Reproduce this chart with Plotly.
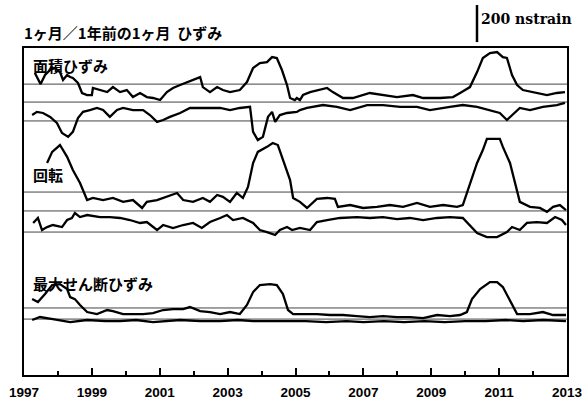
import plotly.graph_objects as go

# ---------------- data (decimal year, nstrain) ----------------
areal_a_t = [1997.32, 1997.49, 1997.62, 1997.77, 1997.91, 1998.06, 1998.15, 1998.27, 1998.36, 1998.44,
             1998.59, 1998.71, 1998.86, 1999.00, 1999.03, 1999.24, 1999.45, 1999.62, 1999.83, 2000.03,
             2000.21, 2000.42, 2000.62, 2000.80, 2001.01, 2001.21, 2001.39, 2001.60, 2001.80, 2001.98,
             2002.19, 2002.27, 2002.48, 2002.69, 2002.86, 2003.07, 2003.36, 2003.57, 2003.75, 2003.95,
             2004.16, 2004.31, 2004.45, 2004.60, 2004.75, 2004.84, 2004.98, 2005.04, 2005.13, 2005.22,
             2005.43, 2005.93, 2006.10, 2006.40, 2006.69, 2007.19, 2007.58, 2007.99, 2008.46, 2008.76,
             2009.26, 2009.64, 2009.85, 2010.14, 2010.35, 2010.52, 2010.73, 2010.94, 2011.11, 2011.23,
             2011.38, 2011.53, 2011.70, 2012.11, 2012.41, 2012.70, 2012.94]
areal_a_v = [157, 97, 146, 173, 184, 162, 119, 146, 135, 130,
             103, 49, 38, 38, 76, 65, 54, 81, 54, 65,
             27, 49, 27, 22, 11, 54, 76, 92, 108, 119,
             135, 81, 54, 81, 65, 54, 65, 108, 184, 211,
             216, 243, 238, 173, 92, 22, 11, 22, 11, 38,
             54, 76, 54, 22, 22, 49, 38, 27, 38, 22,
             22, 27, 49, 81, 162, 238, 265, 270, 243, 238,
             146, 92, 65, 49, 38, 49, 54]

areal_b_t = [1997.24, 1997.38, 1997.56, 1997.77, 1997.97, 1998.12, 1998.30, 1998.44, 1998.59, 1998.74,
             1998.94, 1999.15, 1999.33, 1999.53, 1999.74, 1999.92, 2000.21, 2000.51, 2000.71, 2000.92,
             2001.10, 2001.30, 2001.60, 2001.89, 2002.19, 2002.48, 2002.78, 2003.07, 2003.36, 2003.66,
             2003.75, 2003.89, 2004.04, 2004.19, 2004.31, 2004.40, 2004.54, 2004.75, 2004.93, 2005.04,
             2005.13, 2005.34, 2005.81, 2006.22, 2006.61, 2007.11, 2007.58, 2008.08, 2008.58, 2008.96,
             2009.55, 2009.93, 2010.35, 2010.73, 2011.02, 2011.23, 2011.38, 2011.61, 2011.91, 2012.29,
             2012.70, 2012.94]
areal_b_v = [32, 49, 43, 22, -11, -65, -86, -59, 16, 49,
             59, 70, 59, 22, 59, 70, 59, 59, 32, -5,
             5, 22, 43, 70, 70, 70, 70, 59, 70, 76,
             -59, -103, -86, 22, 49, -5, 32, 43, 49, 49,
             59, 70, 86, 76, 59, 86, 86, 76, 76, 59,
             76, 86, 76, 59, 43, 5, 32, 70, 59, 76,
             86, 97]

rot_c_t = [1997.68, 1997.83, 1998.06, 1998.27, 1998.44, 1998.65, 1998.86, 1999.03, 1999.33, 1999.62,
           1999.92, 2000.21, 2000.48, 2000.62, 2000.92, 2001.21, 2001.51, 2001.69, 2001.98, 2002.27,
           2002.48, 2002.69, 2002.86, 2003.07, 2003.27, 2003.45, 2003.60, 2003.75, 2003.89, 2004.16,
           2004.33, 2004.48, 2004.63, 2004.84, 2004.93, 2005.13, 2005.34, 2005.52, 2005.63, 2005.93,
           2006.16, 2006.25, 2006.61, 2006.99, 2007.40, 2007.78, 2008.17, 2008.58, 2008.96, 2009.35,
           2009.76, 2009.93, 2010.05, 2010.20, 2010.35, 2010.52, 2010.64, 2011.02, 2011.11, 2011.32,
           2011.53, 2011.61, 2011.91, 2012.20, 2012.41, 2012.59, 2012.79, 2012.97]
rot_c_v = [259, 319, 356, 292, 221, 151, 59, 70, 59, 70,
           49, 59, 16, 49, 59, 76, 97, 59, 49, 70,
           49, 86, 76, 49, 97, 70, 130, 259, 319, 346,
           367, 356, 275, 167, 70, 49, 16, 49, 65, 70,
           65, 22, 32, 16, 22, 32, 22, 43, 22, 32,
           22, 32, 97, 184, 259, 329, 389, 389, 346, 259,
           113, 49, 22, 16, -5, 22, 32, 5]

rot_d_t = [1997.27, 1997.41, 1997.53, 1997.68, 1997.85, 1998.12, 1998.27, 1998.41, 1998.50, 1998.65,
           1998.86, 1999.24, 1999.53, 1999.83, 2000.12, 2000.42, 2000.62, 2000.92, 2001.10, 2001.39,
           2001.69, 2001.98, 2002.24, 2002.48, 2002.78, 2002.98, 2003.16, 2003.45, 2003.75, 2003.95,
           2004.16, 2004.40, 2004.54, 2004.75, 2004.90, 2005.13, 2005.43, 2005.63, 2005.93, 2006.31,
           2006.81, 2007.19, 2007.58, 2007.99, 2008.37, 2008.76, 2009.17, 2009.55, 2009.93, 2010.14,
           2010.35, 2010.64, 2010.94, 2011.23, 2011.38, 2011.61, 2011.82, 2012.11, 2012.41, 2012.65,
           2012.85, 2012.97]
rot_d_v = [49, 76, 11, 27, 38, 27, 65, 76, 103, 81,
           92, 81, 81, 76, 65, 49, 54, 11, 38, 22,
           38, 49, 22, 54, 76, 92, 65, 76, 49, 11,
           0, -16, 11, 27, 11, 22, 11, 54, 65, 76,
           81, 76, 81, 70, 76, 65, 76, 81, 76, 38,
           -5, -27, -27, 0, 27, 11, 49, 54, 49, 81,
           65, 38]

shear_e_t = [1997.24, 1997.41, 1997.62, 1997.83, 1998.06, 1998.27, 1998.36, 1998.50, 1998.65, 1998.86,
             1999.15, 1999.45, 1999.62, 1999.92, 2000.21, 2000.51, 2000.80, 2001.10, 2001.39, 2001.69,
             2001.89, 2002.19, 2002.48, 2002.78, 2003.07, 2003.36, 2003.57, 2003.75, 2003.95, 2004.25,
             2004.45, 2004.63, 2004.78, 2004.93, 2005.22, 2005.63, 2006.02, 2006.40, 2006.81, 2007.19,
             2007.58, 2007.99, 2008.37, 2008.76, 2009.17, 2009.55, 2009.85, 2010.05, 2010.20, 2010.44,
             2010.73, 2010.94, 2011.11, 2011.32, 2011.53, 2011.91, 2012.29, 2012.59, 2012.97]
shear_e_v = [108, 92, 135, 184, 189, 162, 119, 108, 76, 38,
             27, 49, 43, 27, 27, 27, 32, 49, 54, 54,
             65, 43, 38, 27, 38, 27, 76, 146, 184, 189,
             184, 135, 49, 27, 27, 27, 22, 22, 16, 11,
             16, 11, 11, 5, 22, 16, 22, 38, 108, 162,
             200, 200, 173, 103, 27, 27, 38, 22, 22]

shear_f_t = [1997.24, 1997.47, 1997.85, 1998.36, 1998.86, 1999.40, 1999.83, 2000.30, 2000.80, 2001.20,
             2001.60, 2002.19, 2002.78, 2003.30, 2003.75, 2004.30, 2004.75, 2005.30, 2005.90, 2006.50,
             2007.00, 2007.60, 2008.20, 2008.80, 2009.40, 2010.00, 2010.60, 2011.20, 2011.70, 2012.30,
             2012.97]
shear_f_v = [-5, 11, 0, -16, -5, -11, -11, -5, -16, -11,
             -5, -11, -11, -5, -11, -11, -11, -11, -16, -11,
             -16, -11, -16, -11, -16, -11, -11, -5, -11, -5,
             -11]

year_ticks = [1997, 1999, 2001, 2003, 2005, 2007, 2009, 2011, 2013]

title_text = "1ヶ月／1年前の1ヶ月  ひずみ"
panel_labels = ["面積ひずみ", "回転", "最大せん断ひずみ"]
scale_text = "200 nstrain"
scale_len = 200

# ---------------- layout constants ----------------
Y_MAX = 1766
base_a, base_b = 1474, 1372
base_c, base_d = 886, 772
base_e = 302
ref_levels = [1571, 1474, 1372, 988, 886, 772, 362, 302]

fig = go.Figure()
line_style = dict(color="black", width=2.3)
for t, v, base in [(areal_a_t, areal_a_v, base_a), (areal_b_t, areal_b_v, base_b),
                   (rot_c_t, rot_c_v, base_c), (rot_d_t, rot_d_v, base_d),
                   (shear_e_t, shear_e_v, base_e), (shear_f_t, shear_f_v, base_e)]:
    fig.add_trace(go.Scatter(x=t, y=[base + val for val in v], mode="lines",
                             line=line_style, showlegend=False, hoverinfo="skip"))

for lv in ref_levels:
    fig.add_shape(type="line", xref="paper", yref="y", x0=0, x1=1, y0=lv, y1=lv,
                  line=dict(color="#444444", width=1), layer="below")

# scale bar (paper coordinates, above plot)
bar_bottom = (Y_MAX + 32) / Y_MAX
bar_top = (Y_MAX + 32 + scale_len) / Y_MAX
bar_x = (477 - 24) / 543
fig.add_shape(type="line", xref="paper", yref="paper", x0=bar_x, x1=bar_x,
              y0=bar_bottom, y1=bar_top, line=dict(color="black", width=2.5))
fig.add_annotation(xref="paper", yref="paper", x=(479 - 24) / 543, y=(375 - 19) / 327,
                   text="<b>" + scale_text + "</b>", showarrow=False, xanchor="left",
                   yanchor="middle", font=dict(family="DejaVu Serif", size=14, color="black"))

cjk = "Noto Sans CJK JP"
fig.add_annotation(xref="paper", yref="paper", x=(22 - 24) / 543, y=(375 - 32.5) / 327,
                   text="<b>" + title_text + "</b>", showarrow=False, xanchor="left",
                   yanchor="middle", font=dict(family=cjk, size=15, color="black"))
for lab, ypx in zip(panel_labels, [65, 174, 283]):
    fig.add_annotation(xref="paper", yref="paper", x=(31 - 24) / 543, y=(375 - ypx) / 327,
                       text="<b>" + lab + "</b>", showarrow=False, xanchor="left",
                       yanchor="middle", font=dict(family=cjk, size=15, color="black"))

fig.update_layout(
    width=582, height=401,
    margin=dict(l=24, r=15, t=48, b=26, autoexpand=False),
    paper_bgcolor="white", plot_bgcolor="white",
    xaxis=dict(range=[1997, 2013], tickvals=year_ticks,
               ticktext=["<b>%d</b>" % y for y in year_ticks],
               ticks="inside", ticklen=7, tickwidth=2, tickcolor="black",
               minor=dict(dtick=1, tick0=1997, ticks="inside", ticklen=4, tickwidth=2,
                          tickcolor="black", showgrid=False),
               showgrid=False, zeroline=False, showline=True, linecolor="black",
               linewidth=2, mirror=True, ticklabeloverflow="allow", ticklabelstandoff=4,
               tickfont=dict(family="Liberation Sans", size=13.5, color="black")),
    yaxis=dict(range=[0, Y_MAX], showgrid=False, zeroline=False, showticklabels=False,
               ticks="", showline=True, linecolor="black", linewidth=2, mirror=True),
)

fig.write_html("out.html", config={"displayModeBar": False},
               post_script="document.body.style.margin='0';document.body.style.padding='0';")
